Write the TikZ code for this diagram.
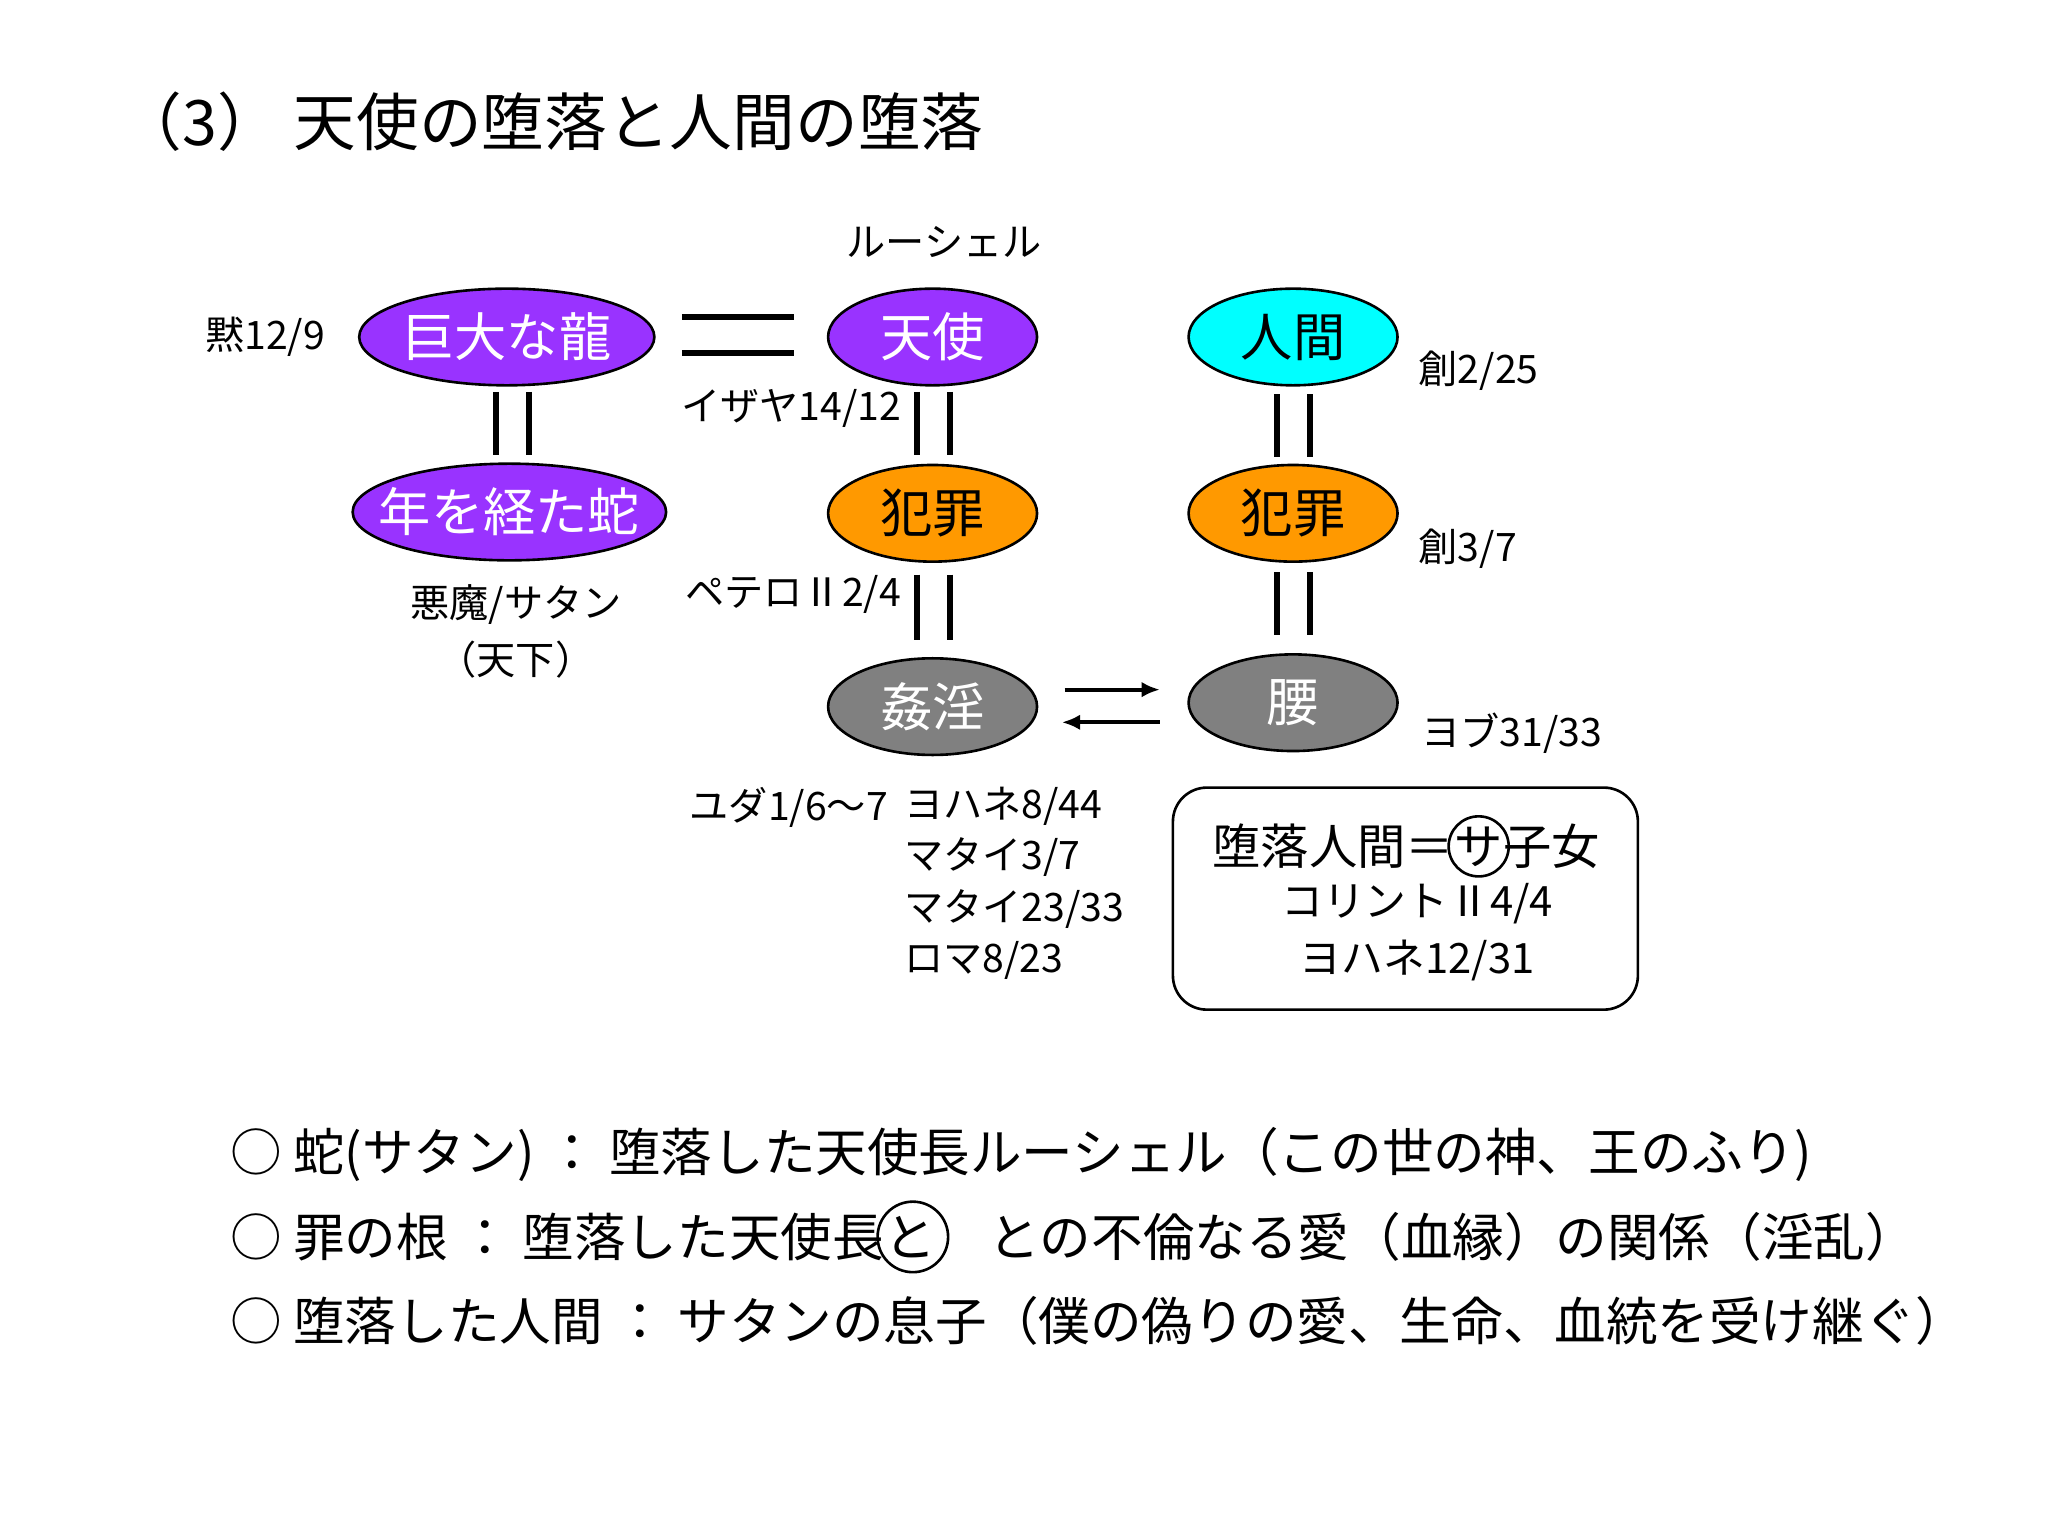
\documentclass[tikz,border=0pt]{standalone}
\usepackage{fontspec}
\setmainfont{Liberation Sans}
\newfontfamily\jp{Noto Sans CJK JP}
\usetikzlibrary{shapes.geometric,arrows.meta}
\begin{document}
\begin{tikzpicture}[x=1pt,y=-1pt,
 ell/.style={ellipse,draw=black,line width=2pt,minimum height=74pt,inner sep=0pt},
 et/.style={font=\jp\fontsize{40}{44}\selectfont,inner sep=0pt},
 pur/.style={ell,fill={rgb,255:red,153;green,51;blue,255}},
 org/.style={ell,fill={rgb,255:red,255;green,153;blue,0}},
 cya/.style={ell,fill={rgb,255:red,0;green,255;blue,255}},
 gry/.style={ell,fill={rgb,255:red,128;green,128;blue,128}},
 lab/.style={font=\jp\fontsize{30}{34}\selectfont,inner sep=0pt},
 bar/.style={line width=4.5pt},
 arr/.style={line width=3pt,-{Latex[length=14pt,width=12pt]}},
 bot/.style={font=\jp\fontsize{39.5}{42}\selectfont,anchor=west,inner sep=0pt}]
\useasboundingbox[fill=white] (0,0) rectangle (1568,1176);
\node[font=\jp\fontsize{48}{52}\selectfont,anchor=west] (t) at (88,93) {（3）\ 天使の堕落と人間の堕落};
\node[lab] (luc) at (723,185) {ルーシェル};
\node[pur,minimum width=226pt] (dragon) at (388,258) {};
\node[et,text=white] at (dragon) {巨大な龍};
\node[pur,minimum width=160pt] (angel) at (714,258) {};
\node[et,text=white] at (angel) {天使};
\node[cya,minimum width=160pt] (man) at (990,258) {};
\node[et] at (man) {人間};
\node[pur,minimum width=240pt] (snake) at (390,392) {};
\node[et,text=white] at (snake) {年を経た蛇};
\node[org,minimum width=160pt] (sin1) at (714,393) {};
\node[et] at (sin1) {犯罪};
\node[org,minimum width=160pt] (sin2) at (990,393) {};
\node[et] at (sin2) {犯罪};
\node[gry,minimum width=160pt] (adult) at (714,541) {};
\node[et,text=white] at (adult) {姦淫};
\node[gry,minimum width=160pt] (loin) at (990,538) {};
\node[et,text=white] at (loin) {腰};
\coordinate (e1) at (522,243); \coordinate (e2) at (608,243);
\coordinate (e3) at (522,270); \coordinate (e4) at (608,270);
\draw[bar] (e1) -- (e2); \draw[bar] (e3) -- (e4);
\foreach \x/\a/\b in {380/300/348,405/300/348,702/300/348,727/300/348,978/302/350,1003/302/350,702/440/490,727/440/490,978/438/486,1003/438/486}{
 \draw[bar] (\x,\a) -- (\x,\b);}
\coordinate (a1) at (815,528); \coordinate (a2) at (888,528);
\coordinate (a3) at (888,553); \coordinate (a4) at (813,553);
\draw[arr] (a1) -- (a2);
\draw[arr] (a3) -- (a4);
\node[lab] (l1) at (203,258) {黙12/9};
\node[lab,anchor=east] (l2) at (690,313) {イザヤ14/12};
\node[lab,anchor=west] (l3) at (1086,284) {創2/25};
\node[lab,anchor=west] (l4) at (1086,420) {創3/7};
\node[lab] (l5) at (395,463) {悪魔/サタン};
\node[lab] (l6) at (395,505) {（天下）};
\node[lab,anchor=east] (l7) at (690,455) {ペテロⅡ2/4};
\node[lab,anchor=west] (l8) at (1088,561) {ヨブ31/33};
\node[lab,anchor=east] (l9) at (680,618) {ユダ1/6～7};
\node[lab,anchor=west] (l10) at (692,617) {ヨハネ8/44};
\node[lab,anchor=west] (l11) at (692,656) {マタイ3/7};
\node[lab,anchor=west] (l12) at (692,696) {マタイ23/33};
\node[lab,anchor=west] (l13) at (692,735) {ロマ8/23};
\draw[line width=2pt,rounded corners=26pt] (898,603) rectangle (1254,773);
\node[font=\jp\fontsize{37}{40}\selectfont,inner sep=0pt,anchor=west] (b1) at (928,648) {堕落人間＝};
\node[font=\jp\fontsize{37}{40}\selectfont,inner sep=0pt,anchor=west] (b1s) at (b1.east) {サ};
\node[font=\jp\fontsize{37}{40}\selectfont,inner sep=0pt,anchor=west] (b1e) at (b1s.east) {子女};
\draw[line width=2pt] (b1s) circle (23);
\node[lab,font=\jp\fontsize{32}{34}\selectfont] (b2) at (1085,692) {コリントⅡ4/4};
\node[lab,font=\jp\fontsize{32}{34}\selectfont] (b3) at (1085,735) {ヨハネ12/31};
\node[bot] (c1) at (176,884) {○ 蛇(サタン) ： 堕落した天使長ルーシェル（この世の神、王のふり)};
\node[bot] (c2a) at (176,947) {○ 罪の根 ： 堕落した天使長};
\node[bot] (c2b) at (c2a.east) {と};
\node[bot] (c2c) at ([xshift=40pt]c2b.east) {との不倫なる愛（血縁）の関係（淫乱）};
\draw[line width=2pt] ([xshift=2pt]c2b.center) circle (27);
\node[bot] (c3) at (176,1011) {○ 堕落した人間 ： サタンの息子（僕の偽りの愛、生命、血統を受け継ぐ）};
\end{tikzpicture}
\end{document}
